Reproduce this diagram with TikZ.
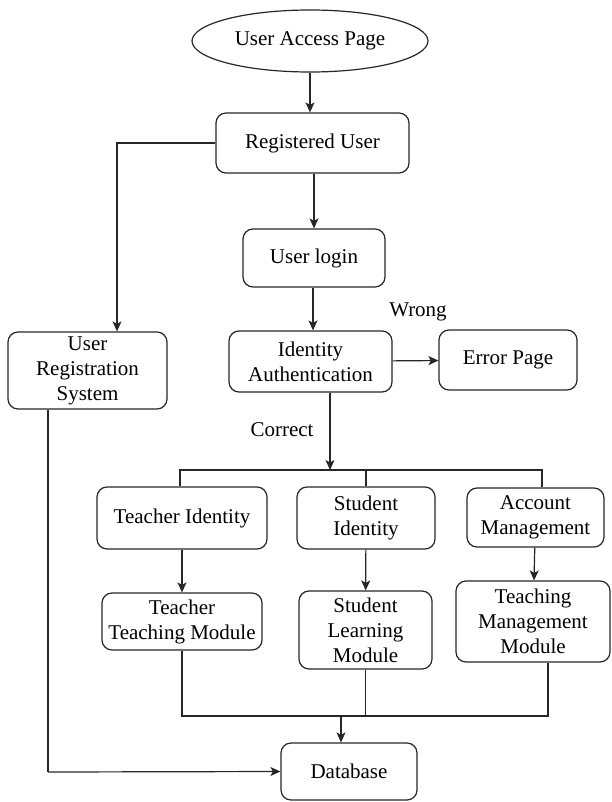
\documentclass[tikz,border=0pt]{standalone}
\usepackage{fontspec}
\setmainfont{Liberation Serif}
\usetikzlibrary{shapes.geometric,arrows.meta}

\definecolor{ink}{gray}{0.15}

\tikzset{
  box/.style={draw=ink, rounded corners=10pt, line width=1.2pt, inner sep=0pt,
    align=center, text=black, font=\fontsize{21}{25}\selectfont},
  oval/.style={draw=ink, ellipse, line width=1.2pt, inner sep=0pt,
    text=black, font=\fontsize{21}{25}\selectfont},
  lbl/.style={inner sep=0pt, text=black, font=\fontsize{21}{25}\selectfont},
  link/.style={draw=ink, line width=1.2pt},
  arr/.style={draw=ink, line width=1.2pt, -{Stealth[length=10pt,width=9pt,inset=2.5pt]}}
}

\begin{document}
\begin{tikzpicture}[x=1pt,y=-1pt]
\useasboundingbox (0,0) rectangle (611,802);

% top of the flow
\node[oval, minimum width=236pt, minimum height=62pt] (uap) at (310,41) {User Access Page};
\node[box, minimum width=193pt, minimum height=60pt] (ru) at (312.5,143) {Registered User};
\node[box, minimum width=142pt, minimum height=58pt] (ul) at (314,258) {User login};
\node[box, minimum width=159pt, minimum height=77pt] (urs) at (87.5,370.5) {User\\Registration\\System};
\node[box, minimum width=163pt, minimum height=61pt] (ia) at (310.5,361.5) {Identity\\Authentication};
\node[box, minimum width=138pt, minimum height=60pt] (ep) at (508,360) {Error Page};

% role boxes
\node[box, minimum width=170pt, minimum height=62pt] (ti) at (182,518) {Teacher Identity};
\node[box, minimum width=138pt, minimum height=62pt] (si) at (366,518) {Student\\Identity};
\node[box, minimum width=137pt, minimum height=59pt] (am) at (535.5,517.5) {Account\\Management};

% module boxes
\node[box, minimum width=160pt, minimum height=57pt] (ttm) at (182,621.5) {Teacher\\Teaching Module};
\node[box, minimum width=133pt, minimum height=78pt] (slm) at (365.5,630) {Student\\Learning\\Module};
\node[box, minimum width=154pt, minimum height=81pt] (tmm) at (533,621.5) {Teaching\\Management\\Module};

\node[box, minimum width=136pt, minimum height=57pt] (db) at (349,771.5) {Database};

% labels
\node[lbl] (wrong) at (418,312) {Wrong};
\node[lbl] (correct) at (282,430) {Correct};

% junction points
\coordinate (b1) at (330,470);
\coordinate (b1l) at (180,470);
\coordinate (b1r) at (542,470);
\coordinate (b2) at (341,716);
\coordinate (b2l) at (182,716);
\coordinate (b2r) at (548,716);
\coordinate (regcorner) at (48,772);

% connectors
\draw[arr] (uap.south) -- (uap.south |- ru.north);
\draw[arr] (ru.west) -| (urs.north -| 117,0);
\draw[arr] (ru.south -| ul.north) -- (ul.north);
\draw[arr] (ul.south -| 313,0) -- (ia.north -| 313,0);
\draw[arr] (ia) -- (ep);
\draw[arr] (ia.south -| b1) -- (b1);

\draw[link] (b1l |- ti.north) -- (b1l) -- (b1r) -- (b1r |- am.north);
\draw[link] (si.north) -- (si.north |- b1);

\draw[arr] (ti) -- (ttm);
\draw[arr] (si) -- (slm);
\draw[arr] (am) -- (tmm);

\draw[link] (ttm.south) -- (b2l) -- (b2r) -- (b2r |- tmm.south);
\draw[link] (slm.south) -- (slm.south |- b2);
\draw[arr] (b2) -- (db.north -| b2);

\draw[link] (urs.south -| regcorner) -- (regcorner);
\draw[arr] (regcorner) -- (db.west);
\end{tikzpicture}
\end{document}
